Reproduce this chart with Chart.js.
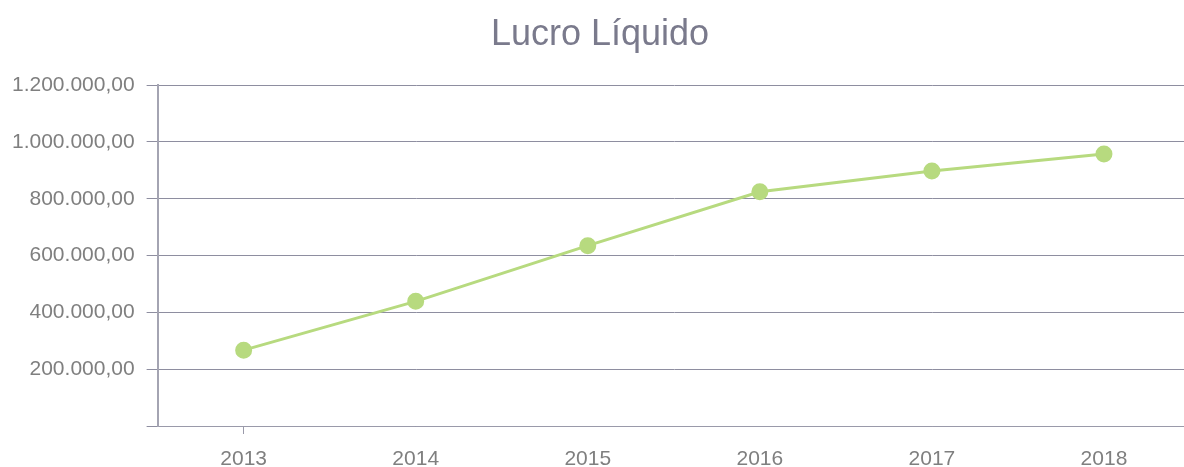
<!DOCTYPE html>
<html>
<head>
<meta charset="utf-8">
<script src="https://cdn.jsdelivr.net/npm/chart.js@4"></script>
<style>
    html, body { margin: 0; padding: 0; background: #fff; overflow: hidden; }
    #LucroChart { display: block; }
</style>
</head>
<body>
<canvas id="LucroChart" width="1200" height="467"></canvas>
<script>
const years = ['2013', '2014', '2015', '2016', '2017', '2018'];
const lucroLiquido = [267000, 439000, 635000, 825000, 898000, 958000];
const yTicks = [0, 200000, 400000, 600000, 800000, 1000000, 1200000];

function formatBR(value) {
    if (value === 0) return '';
    const parts = value.toFixed(2).split('.');
    const intPart = parts[0].replace(/\B(?=(\d{3})+(?!\d))/g, '.');
    return intPart + ',' + parts[1];
}

document.addEventListener('DOMContentLoaded', () => {
    const ctx = document.getElementById('LucroChart').getContext('2d');
    Chart.defaults.font.family = '"Liberation Sans", Arial, sans-serif';

    new Chart(ctx, {
        type: 'line',
        data: {
            labels: years,
            datasets: [{
                label: 'Lucro Líquido',
                data: lucroLiquido,
                borderColor: '#b7da7f',
                backgroundColor: '#b7da7f',
                borderWidth: 3,
                pointRadius: 7,
                pointHoverRadius: 7,
                tension: 0
            }]
        },
        options: {
            responsive: false,
            animation: false,
            layout: { padding: { left: 0, right: 0, top: 0, bottom: -18 } },
            plugins: {
                legend: { display: false },
                title: {
                    display: true,
                    text: 'Lucro Líquido',
                    color: '#7a7a8c',
                    font: { size: 36, weight: 'normal' },
                    padding: { top: 13, bottom: 29 }
                }
            },
            scales: {
                x: {
                    offset: true,
                    grid: {
                        drawOnChartArea: false,
                        tickLength: 8,
                        color: (c) => c.index === 0 ? '#9a9aaa' : 'rgba(0,0,0,0)'
                    },
                    border: { display: true, color: '#9a9aaa', width: 1 },
                    ticks: { color: '#7f7f7f', font: { size: 21, lineHeight: 1 }, padding: 15 }
                },
                y: {
                    min: 0,
                    max: 1200000,
                    afterBuildTicks: (axis) => { axis.ticks = yTicks.map(v => ({ value: v })); },
                    grid: { color: '#8e8ea0', tickLength: 11, lineWidth: 1 },
                    border: { display: true, color: '#a4a4b2', width: 2 },
                    ticks: {
                        color: '#7f7f7f',
                        font: { size: 21 },
                        padding: 12,
                        callback: (value) => formatBR(value)
                    }
                }
            }
        }
    });
});
</script>
</body>
</html>
